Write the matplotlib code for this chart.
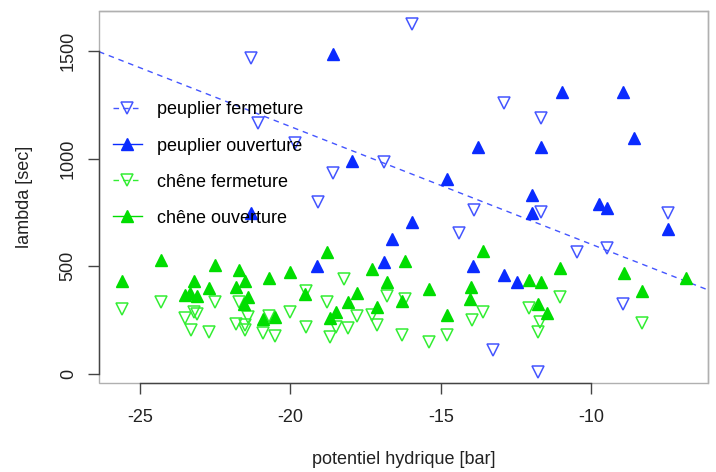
import matplotlib
matplotlib.use("Agg")
import matplotlib.pyplot as plt
from matplotlib.lines import Line2D

plt.rcParams['font.family'] = ['Liberation Sans', 'DejaVu Sans']
plt.rcParams['axes.unicode_minus'] = False

# peuplier fermeture (open, down triangles)
pf_x = [-21.31, -21.09, -19.85, -18.6, -19.1, -15.96, -16.88, -13.9, -14.4,
        -12.91, -11.68, -11.68, -10.49, -9.49, -7.47, -8.94, -13.26, -11.79]
pf_y = [1469, 1167, 1072, 935, 799, 1626, 986, 762, 653,
        1260, 1187, 754, 568, 584, 746, 325, 111, 8]

# peuplier ouverture (filled, up triangles)
po_x = [-21.31, -18.6, -17.97, -19.11, -16.89, -16.63, -15.95, -14.79, -13.78,
        -13.92, -12.91, -12.49, -11.99, -11.99, -11.68, -10.97, -9.76, -9.49,
        -8.94, -8.58, -7.47]
po_y = [746, 1485, 991, 502, 522, 626, 707, 904, 1056,
        502, 458, 429, 830, 746, 1056, 1311, 790, 770,
        1311, 1095, 672]

# chene fermeture
cf_x = [-25.61, -24.31, -23.2, -23.12, -23.5, -23.32, -22.71, -22.51, -21.7,
        -21.4, -21.82, -21.51, -21.51, -20.7, -20.9, -20.51, -20.02, -19.49,
        -19.49, -18.21, -18.8, -18.49, -18.08, -18.69, -17.8, -17.3, -17.14,
        -16.78, -16.19, -16.29, -15.39, -14.79, -13.98, -13.6, -12.09, -11.05,
        -11.71, -11.77, -8.31]
cf_y = [300, 336, 289, 277, 259, 204, 193, 336, 333,
        263, 232, 226, 204, 269, 192, 176, 289, 385,
        220, 441, 336, 217, 212, 173, 269, 274, 226,
        362, 350, 181, 150, 181, 251, 289, 305, 359,
        243, 196, 235]

# chene ouverture
co_x = [-25.61, -24.31, -23.21, -23.5, -23.34, -23.12, -22.71, -22.51, -21.7,
        -21.51, -21.81, -21.4, -21.54, -20.7, -20.02, -20.9, -20.51, -19.52,
        -18.8, -18.49, -18.69, -18.1, -17.8, -17.3, -17.14, -16.78, -16.3,
        -16.19, -15.39, -14.79, -14.04, -13.99, -13.6, -12.08, -11.69, -11.77,
        -11.47, -11.05, -8.92, -8.31, -6.86]
co_y = [434, 529, 432, 367, 375, 364, 401, 506, 483,
        432, 402, 359, 323, 444, 475, 255, 266, 370,
        568, 289, 261, 334, 378, 486, 313, 429, 341,
        526, 393, 272, 347, 403, 573, 437, 426, 324,
        282, 491, 468, 385, 447]

# fitted line (peuplier fermeture)
fit_a = 55.0
fit_b = -54.7

x_ticks = [-25, -20, -15, -10]
y_ticks = [0, 500, 1000, 1500]

blue = '#0a2bff'
blue_open = '#4455ff'
green = '#00dd00'
green_open = '#33ee33'
fs = 13

fig = plt.figure(figsize=(7.16, 4.72), dpi=100)
ax = fig.add_axes([0.1383, 0.1886, 0.8505, 0.7881])

xlim = (-26.36, -6.13)
ax.set_xlim(xlim)
ax.set_ylim(-42, 1686)

ax.plot(xlim, [fit_a + fit_b * xlim[0], fit_a + fit_b * xlim[1]],
        color=blue_open, lw=1, dashes=(4, 3.5))

ax.plot(pf_x, pf_y, 'v', ms=8, mfc='none', mec=blue_open, mew=1.1, ls='none')
ax.plot(po_x, po_y, '^', ms=8, color=blue, ls='none')
ax.plot(cf_x, cf_y, 'v', ms=8, mfc='none', mec=green_open, mew=1.1, ls='none')
ax.plot(co_x, co_y, '^', ms=8, color=green, ls='none')

handles = [
    Line2D([], [], color=blue_open, lw=1, dashes=(4, 3), marker='v', ms=8,
           mfc='none', mec=blue_open, mew=1.1),
    Line2D([], [], color=blue, lw=1, marker='^', ms=8),
    Line2D([], [], color=green_open, lw=1, dashes=(4, 3), marker='v', ms=8,
           mfc='none', mec=green_open, mew=1.1),
    Line2D([], [], color=green, lw=1, marker='^', ms=8),
]
labels = ['peuplier fermeture', 'peuplier ouverture', 'chêne fermeture', 'chêne ouverture']
ax.legend(handles, labels, loc='upper left', bbox_to_anchor=(0.023, 0.757),
          frameon=False, fontsize=fs, handlelength=1.6, handletextpad=0.85,
          labelspacing=1.06, borderpad=0, borderaxespad=0)

for s in ax.spines.values():
    s.set_color('#b0b0b0')
    s.set_linewidth(1)
ax.spines['bottom'].set_bounds(-25, -10)
ax.spines['left'].set_bounds(0, 1500)
ax.spines['bottom'].set_color('#444444')
ax.spines['left'].set_color('#444444')
ax.patch.set_edgecolor('#b0b0b0')
ax.patch.set_linewidth(1)

ax.set_xticks(x_ticks)
ax.set_yticks(y_ticks)
ax.tick_params(direction='out', length=8, width=1, color='#444444',
               labelsize=fs, labelcolor='#222222')
ax.tick_params(axis='x', pad=11)
ax.tick_params(axis='y', pad=8)
for lab in ax.get_yticklabels():
    lab.set_rotation(90)
    lab.set_va('center')

ax.set_xlabel('potentiel hydrique [bar]', fontsize=fs, color='#222222', labelpad=18)
ax.set_ylabel('lambda [sec]', fontsize=fs, color='#222222', labelpad=19)

fig.savefig('out.png', dpi=100)
